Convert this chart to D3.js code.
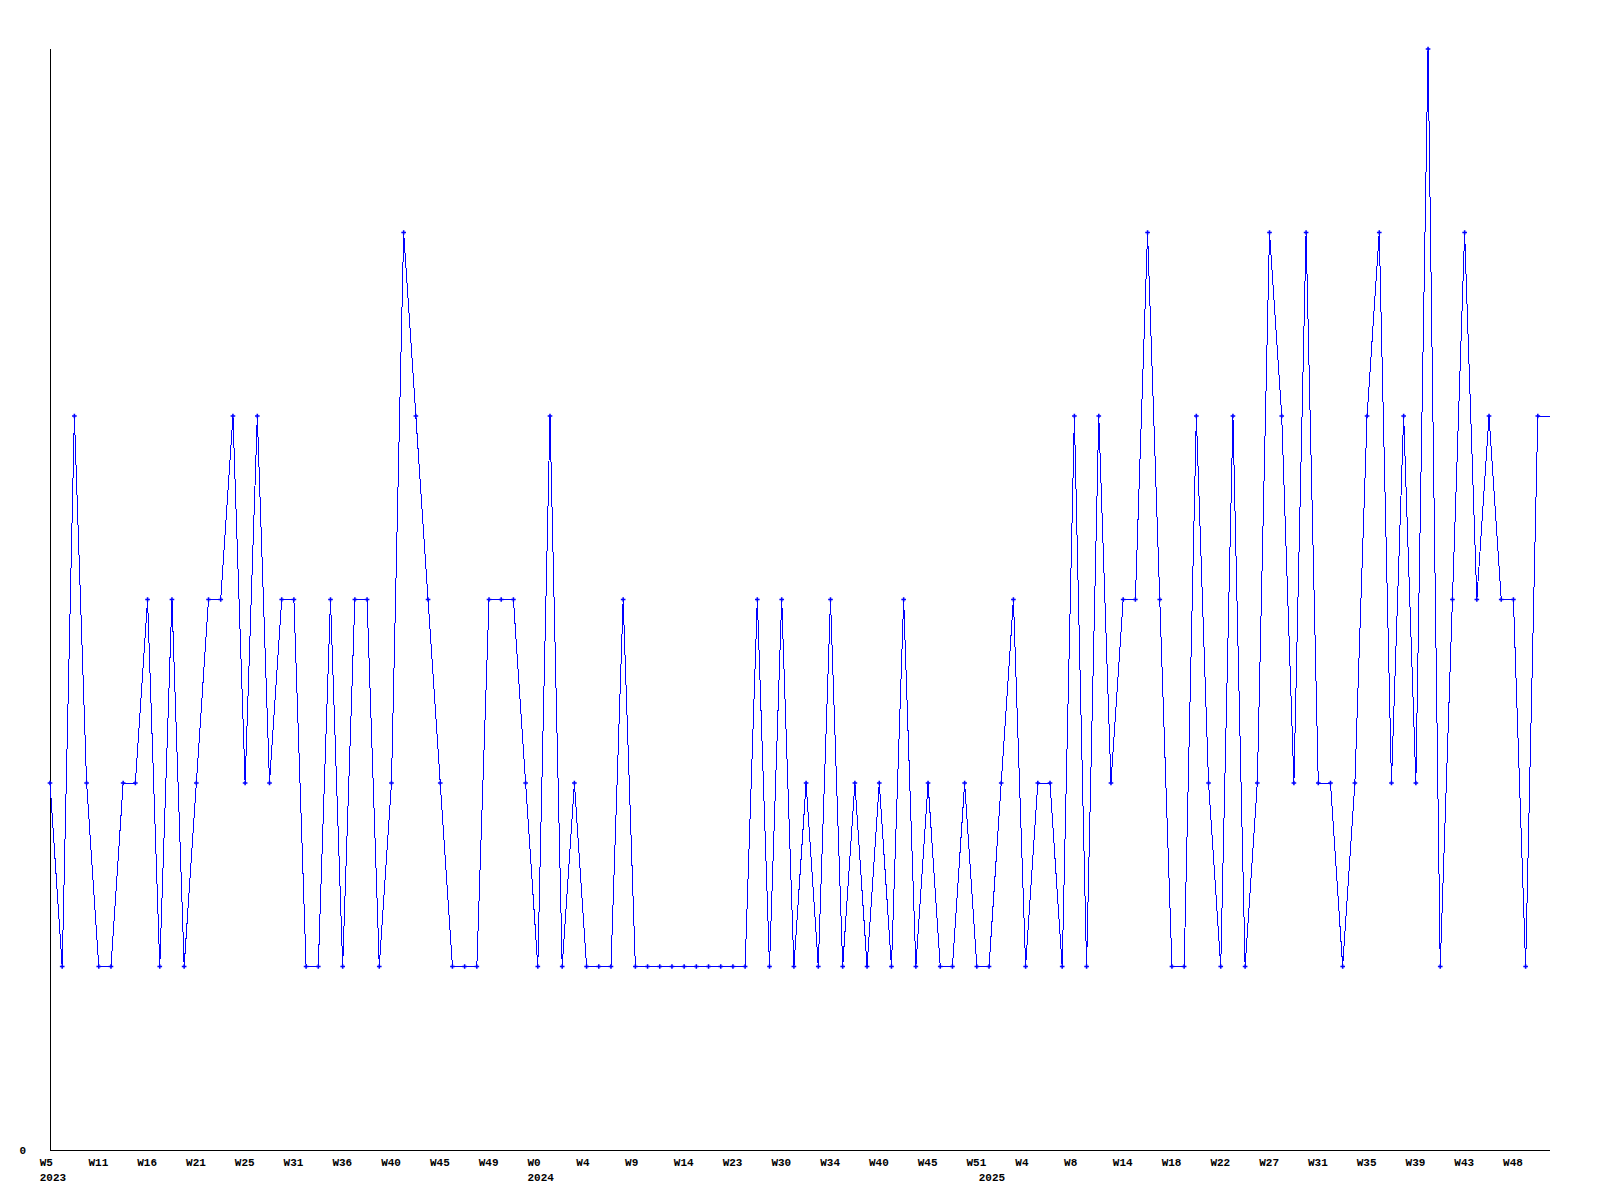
<!DOCTYPE html>
<html>
<head>
<meta charset="utf-8">
<script src="https://cdn.jsdelivr.net/npm/d3@7"></script>
<style>
  html, body { margin: 0; padding: 0; background: #ffffff; }
  svg { display: block; }
  text { font-family: "Liberation Mono", "DejaVu Sans Mono", monospace; font-weight: bold; font-size: 11px; fill: #000; }
</style>
</head>
<body>
<svg id="chart" width="1600" height="1200"></svg>
<script>
// ---- categories: one entry per plotted week (year, week number) ----
const years = [
  2023,2023,2023,2023, 2023,2023,2023,2023, 2023,2023,2023,2023, 2023,2023,2023,2023,
  2023,2023,2023,2023, 2023,2023,2023,2023, 2023,2023,2023,2023, 2023,2023,2023,2023,
  2023,2023,2023,2023, 2023,2023,2023,2023,
  2024,2024,2024,2024, 2024,2024,2024,2024, 2024,2024,2024,2024, 2024,2024,2024,2024,
  2024,2024,2024,2024, 2024,2024,2024,2024, 2024,2024,2024,2024, 2024,2024,2024,2024,
  2024,2024,2024,2024, 2024,
  2025,2025,2025, 2025,2025,2025,2025, 2025,2025,2025,2025, 2025,2025,2025,2025,
  2025,2025,2025,2025, 2025,2025,2025,2025, 2025,2025,2025,2025, 2025,2025,2025,2025,
  2025,2025,2025,2025, 2025,2025,2025,2025, 2025,2025,2025,2025, 2025,2025,2025
];
const weeks = [
  5,6,8,9, 11,12,13,15, 16,17,19,20, 21,22,23,24,
  25,27,28,30, 31,32,34,35, 36,37,38,39, 40,42,43,44,
  45,46,47,48, 49,50,51,52,
  0,1,2,3, 4,6,7,8, 9,10,12,13, 14,16,18,20,
  23,25,27,28, 30,31,32,33, 34,36,37,38, 40,41,42,44,
  45,47,48,50, 51,
  0,1,3, 4,5,6,7, 8,10,11,13, 14,15,16,17,
  18,19,20,21, 22,23,25,26, 27,28,29,30, 31,32,33,34,
  35,36,37,38, 39,40,41,42, 43,44,46,47, 48,49,50
];
const categories = years.map((yr, i) => yr + "-W" + weeks[i]);

// ---- series values (one per category) ----
const values = [
  2,1,4,2,1,1,2,2,3,1,
  3,1,2,3,3,4,2,4,2,3,
  3,1,1,3,1,3,3,1,2,5,
  4,3,2,1,1,1,3,3,3,2,
  1,4,1,2,1,1,1,3,1,1,
  1,1,1,1,1,1,1,1,3,1,
  3,1,2,1,3,1,2,1,2,1,
  3,1,2,1,1,2,1,1,2,3,
  1,2,2,1,4,1,4,2,3,3,
  5,3,1,1,4,2,1,4,1,2,
  5,4,2,5,2,2,1,2,4,5,
  2,4,2,6,1,3,5,3,4,3,
  3,1,4
];

// ---- tick labels ----
const tickCategories = [
  "2023-W5","2023-W11","2023-W16","2023-W21","2023-W25","2023-W31","2023-W36","2023-W40","2023-W45","2023-W49",
  "2024-W0","2024-W4","2024-W9","2024-W14","2024-W23","2024-W30","2024-W34","2024-W40","2024-W45","2024-W51",
  "2025-W4","2025-W8","2025-W14","2025-W18","2025-W22","2025-W27","2025-W31","2025-W35","2025-W39","2025-W43","2025-W48"
];
const tickLabels = tickCategories.map(c => c.split("-")[1]);
const yearCategories = ["2023-W5", "2024-W0", "2025-W0"];
const yearLabels = ["2023", "2024", "2025"];
const yTickValues = [0];
const yTickLabels = ["0"];

(function draw() {
  const svg = d3.select("#chart");
  const mLeft = 50, mRight = 1550, mTop = 49, mBottom = 1150;

  const x = d3.scaleLinear().domain([0, categories.length]).range([mLeft, mRight]);
  const y = d3.scaleLinear().domain([0, 6]).range([mBottom, mTop]);
  const xi = c => x(categories.indexOf(c));

  // axis lines
  svg.append("line")
    .attr("x1", mLeft + 0.5).attr("x2", mLeft + 0.5)
    .attr("y1", mTop).attr("y2", mBottom + 0.5)
    .attr("stroke", "#000").attr("stroke-width", 1).attr("shape-rendering", "crispEdges");
  svg.append("line")
    .attr("x1", mLeft).attr("x2", mRight)
    .attr("y1", mBottom + 0.5).attr("y2", mBottom + 0.5)
    .attr("stroke", "#000").attr("stroke-width", 1).attr("shape-rendering", "crispEdges");

  // y tick label(s)
  svg.selectAll("text.ytick").data(yTickValues).enter().append("text")
    .attr("class", "ytick")
    .attr("x", 26).attr("y", d => y(d) + 3.5)
    .attr("text-anchor", "end")
    .text((d, i) => yTickLabels[i]);

  // x tick labels
  svg.selectAll("text.xtick").data(tickCategories).enter().append("text")
    .attr("class", "xtick")
    .attr("x", d => xi(d) - 10.3)
    .attr("y", 1166)
    .text((d, i) => tickLabels[i]);

  // year labels
  svg.selectAll("text.year").data(yearCategories).enter().append("text")
    .attr("class", "year")
    .attr("x", d => xi(d) - 10.3)
    .attr("y", 1180.5)
    .text((d, i) => yearLabels[i]);

  // series line (last value carried to the right edge)
  const pts = values.map((v, i) => [x(i), y(v)]);
  pts.push([x(categories.length), y(values[values.length - 1])]);
  svg.append("path")
    .attr("d", d3.line()(pts))
    .attr("fill", "none")
    .attr("stroke", "#0000ff")
    .attr("stroke-width", 1)
    .attr("shape-rendering", "crispEdges");

  // point markers
  const sym = d3.symbol().type(d3.symbolCross).size(12);
  svg.selectAll("path.pt").data(values).enter().append("path")
    .attr("class", "pt")
    .attr("transform", (d, i) => `translate(${x(i)},${y(d)})`)
    .attr("d", sym)
    .attr("fill", "#0000ff");
})();
</script>
</body>
</html>
